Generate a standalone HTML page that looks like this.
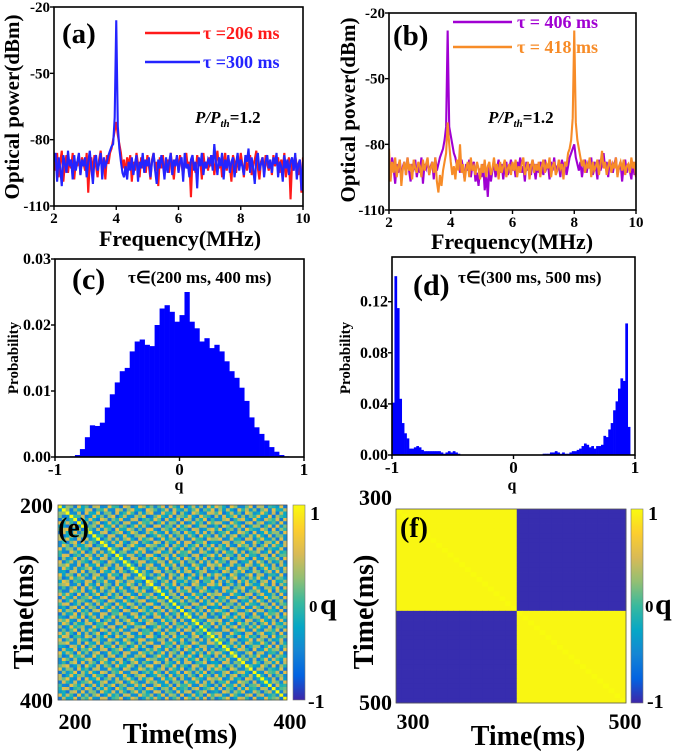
<!DOCTYPE html>
<html><head><meta charset="utf-8"><style>
html,body{margin:0;padding:0;background:#fff;}
svg{display:block;font-family:"Liberation Serif",serif;font-weight:bold;}
</style></head><body>
<svg id="fig" width="685" height="753" viewBox="0 0 685 753" xmlns="http://www.w3.org/2000/svg">
<defs>
<linearGradient id="parula" x1="0" y1="1" x2="0" y2="0">
<stop offset="0" stop-color="#3e26a8"/><stop offset="0.125" stop-color="#0363e1"/><stop offset="0.25" stop-color="#1485d4"/><stop offset="0.375" stop-color="#06a7c6"/><stop offset="0.5" stop-color="#38b99e"/><stop offset="0.625" stop-color="#92bf73"/><stop offset="0.75" stop-color="#d9ba56"/><stop offset="0.875" stop-color="#fcce2e"/><stop offset="1" stop-color="#f9fb0e"/>
</linearGradient>
<clipPath id="clipA"><rect x="54" y="7" width="249" height="199"/></clipPath>
<clipPath id="clipB"><rect x="389" y="13" width="247" height="197"/></clipPath>
</defs>
<g id="root"></g>
</svg>
<script>
// ---------- data ----------
const freqStart = 2, freqStep = 0.05;
const redA = [-88,-94,-86,-97,-90,-85,-99,-91,-87,-95,-89,-93,-86,-98,-90,-92,-87,-96,-88,-91,
-94,-86,-104,-90,-88,-95,-87,-92,-97,-89,-85,-93,-90,-98,-87,-91,-86,-84,-80,-76,
-72,-78,-82,-86,-93,-89,-96,-88,-92,-87,-99,-90,-94,-86,-91,-97,-88,-93,-89,-95,
-87,-92,-98,-89,-86,-94,-90,-101,-88,-93,-87,-96,-91,-89,-95,-86,-92,-98,-90,-88,
-94,-87,-91,-97,-89,-86,-93,-90,-106,-88,-92,-95,-87,-91,-89,-98,-86,-93,-90,-94,
-88,-92,-87,-96,-90,-85,-93,-89,-97,-91,-86,-94,-88,-92,-99,-87,-90,-95,-89,-93,
-86,-91,-97,-88,-94,-90,-87,-96,-92,-89,-85,-93,-98,-90,-88,-95,-87,-91,-94,-89,
-96,-87,-92,-90,-88,-95,-89,-93,-86,-97,-91,-88,-107,-90,-94,-87,-92,-96,-89,-104,-88];
const blueA = [-90,-86,-99,-88,-93,-101,-87,-91,-95,-85,-92,-89,-98,-87,-94,-90,-86,-96,-89,-92,
-88,-97,-90,-85,-93,-100,-89,-87,-94,-91,-86,-98,-88,-92,-90,-87,-85,-83,-82,-70,
-26,-74,-84,-90,-95,-97,-92,-98,-90,-94,-88,-96,-91,-87,-99,-90,-93,-86,-95,-89,
-92,-88,-97,-90,-86,-94,-100,-89,-93,-87,-91,-98,-88,-95,-90,-86,-96,-89,-92,-87,
-95,-90,-88,-99,-86,-93,-91,-97,-89,-87,-94,-90,-102,-88,-92,-86,-96,-90,-93,-89,
-91,-87,-94,-82,-90,-96,-88,-92,-86,-98,-89,-93,-87,-95,-90,-88,-97,-91,-86,-94,
-89,-92,-96,-87,-90,-84,-95,-88,-93,-100,-89,-86,-94,-91,-88,-97,-90,-87,-93,-89,
-95,-88,-91,-86,-97,-90,-92,-99,-87,-93,-89,-96,-90,-88,-94,-86,-98,-91,-89,-103,-90];
const purpleB = [-88,-95,-86,-91,-98,-89,-93,-87,-96,-90,-88,-94,-86,-92,-97,-89,-91,-87,-95,-90,
-93,-86,-98,-89,-91,-87,-94,-90,-88,-96,-86,-92,-89,-86,-84,-82,-78,-72,-28,-72,
-76,-80,-84,-86,-90,-88,-93,-87,-91,-96,-89,-92,-87,-95,-90,-88,-97,-93,-99,-91,
-95,-89,-101,-94,-104,-90,-97,-92,-88,-95,-91,-87,-93,-89,-96,-90,-88,-94,-91,-87,
-92,-89,-95,-88,-91,-86,-93,-90,-97,-88,-92,-89,-94,-87,-91,-96,-89,-93,-88,-90,
-94,-87,-91,-89,-96,-88,-92,-86,-93,-90,-89,-95,-87,-91,-88,-94,-90,-86,-84,-82,
-80,-86,-89,-92,-88,-95,-90,-87,-93,-89,-91,-86,-94,-88,-90,-96,-87,-92,-89,-84,
-91,-88,-95,-87,-90,-93,-89,-86,-94,-91,-88,-97,-90,-87,-93,-89,-92,-96,-88,-94,-91];
const orangeB = [-82,-97,-88,-93,-86,-95,-90,-87,-99,-91,-88,-94,-86,-92,-89,-96,-87,-91,-93,-88,
-90,-95,-87,-92,-89,-86,-94,-91,-88,-93,-86,-97,-102,-94,-99,-92,-88,-84,-70,-80,
-88,-94,-90,-96,-87,-92,-80,-93,-89,-97,-91,-88,-95,-86,-92,-90,-94,-88,-91,-96,
-89,-93,-87,-95,-90,-88,-94,-91,-86,-92,-89,-96,-88,-93,-90,-87,-95,-91,-89,-94,
-88,-92,-87,-95,-90,-93,-89,-86,-94,-91,-88,-96,-90,-87,-93,-89,-92,-88,-95,-90,
-87,-93,-89,-91,-86,-95,-90,-88,-94,-92,-87,-91,-89,-96,-88,-90,-84,-82,-78,-68,
-28,-70,-78,-82,-86,-90,-87,-93,-89,-91,-86,-95,-88,-92,-90,-87,-94,-89,-83,-91,
-88,-94,-90,-87,-93,-89,-91,-86,-95,-90,-88,-92,-87,-94,-90,-89,-93,-86,-91,-88,-95];
const specXTicks = [2,4,6,8,10];
const specYTicks = [-20,-50,-80,-110];

const histCStart = -1, histCWidth = 0.04;
const histC = [0,0,0,0.0001,0.0003,0.0012,0.003,0.0048,0.0047,0.0052,0.0075,0.0095,0.0113,0.013,0.0135,0.016,0.0175,0.0178,0.017,0.0168,0.02,0.0225,0.023,0.022,0.0205,0.0215,0.025,0.0205,0.0195,0.0175,0.018,0.0165,0.017,0.016,0.0145,0.013,0.012,0.0105,0.0085,0.006,0.0045,0.0035,0.0025,0.0015,0.0008,0.0003,0.0001,0,0,0];
const histCYTicks = ["0.00","0.01","0.02","0.03"];
const histDStart = -1, histDWidth = 0.02;
const histD = [0.041,0.14,0.115,0.044,0.025,0.017,0.013,0.005,0.005,0.006,0.007,0.006,0.004,0.003,0.003,0.003,0.003,0.003,0.003,0.003,0.002,0.001,0.002,0.003,0.002,0.003,0.002,0.001,
0,0,0,0,0,0,0,0,0,0,0,0,0,0,0,0,0,0,0,0,0,0,0,0,0,0,0,0,0,0,0,0,0,0,
0.001,0.001,0.001,0.002,0.002,0.003,0.002,0.001,0.002,0.001,0.001,0.002,0.003,0.003,0.004,0.005,0.007,0.009,0.008,0.006,0.007,0.005,0.007,0.007,0.008,0.015,0.014,0.02,0.025,0.035,0.042,0.052,0.06,0.058,0.103,0.022];
const histDYTicks = ["0.00","0.04","0.08","0.12"];
const histXTicks = [-1,0,1];

// state phases (degrees) for overlap matrices q_ij
const phasesE = [12,140,75,300,210,33,260,95,180,320,55,230,150,5,280,110,200,345,70,165,
250,20,310,130,85,225,290,45,175,335,100,240,15,195,270,60,145,315,215,40,
120,350,80,265,185,25,305,155,235,90,10,205,325,65,170,285,115,245,30,190];
const phasesF = [0,0,0,0,0,0,0,0,0,0,0,0,0,0,0,0,0,0,0,0,0,
180,180,180,180,180,180,180,180,180,180,180,180,180,180,180,180,180,180,180];

// ---------- helpers ----------
const NS = "http://www.w3.org/2000/svg";
const root = document.getElementById('root');
function mk(tag, attrs, parent, txt){
  const e = document.createElementNS(NS, tag);
  for (const k in attrs) e.setAttribute(k, attrs[k]);
  if (txt !== undefined) e.textContent = txt;
  (parent || root).appendChild(e);
  return e;
}
function lin(d0,d1,r0,r1){ return v => r0 + (v-d0)*(r1-r0)/(d1-d0); }
function parula(v){
  const st=[[62,38,168],[3,99,225],[20,133,212],[6,167,198],[56,185,158],[146,191,115],[217,186,86],[252,206,46],[249,251,14]];
  let t=(v+1)/2*8; t=Math.max(0,Math.min(8,t)); const i=Math.min(7,Math.floor(t)), f=t-i;
  const c=st[i].map((a,k)=>Math.round(a+(st[i+1][k]-a)*f));
  return `rgb(${c[0]},${c[1]},${c[2]})`;
}

// ---------- spectrum panels ----------
function spectrum(id, x0,x1,y0,y1, series, clip){
  const g = mk('g',{});
  
  
  const sx = lin(2,10,x0,x1), sy = lin(-20,-110,y0,y1);
  const pg = mk('g',{'clip-path':`url(#${clip})`}, g);
  series.forEach(s=>{
    const d = s.vals.map((v,i)=>(i?'L':'M')+sx(freqStart+i*freqStep).toFixed(2)+','+sy(v).toFixed(2)).join('');
    const p = mk('path',{d, fill:'none', stroke:s.color, 'stroke-width':2.1, 'stroke-linejoin':'miter'}, pg);
    
    
  });
  mk('rect',{x:x0,y:y0,width:x1-x0,height:y1-y0,fill:'none',stroke:'#000','stroke-width':1.6},g);
  specXTicks.forEach(t=>{
    mk('line',{x1:sx(t),x2:sx(t),y1:y1,y2:y1+4,stroke:'#000','stroke-width':1.4},g);
    const tl = mk('text',{x:sx(t),y:y1+17,'font-size':15,'text-anchor':'middle'},g,String(t));
    
    
  });
  specYTicks.forEach(t=>{
    mk('line',{x1:x0-4,x2:x0,y1:sy(t),y2:sy(t),stroke:'#000','stroke-width':1.4},g);
    const tl = mk('text',{x:x0-4,y:sy(t)+5,'font-size':15,'text-anchor':'end'},g,String(t));
    
    
  });
  return g;
}
spectrum('a',54,303,7,206,[{vals:redA,color:'#ff1a1a',name:'series-tau-206'},{vals:blueA,color:'#2424ff',name:'series-tau-300'}],'clipA');
spectrum('b',389,636,13,210,[{vals:purpleB,color:'#a000d2',name:'series-tau-406'},{vals:orangeB,color:'#f78c28',name:'series-tau-418'}],'clipB');

// ---------- histograms ----------
function hist(id,x0,x1,y0,y1,ymax,vals,start,w,yt,ytv){
  const g = mk('g',{});
  
  
  const sx = lin(-1,1,x0,x1), sy = lin(0,ymax,y1,y0);
  vals.forEach((v,i)=>{
    if(v<=0) return;
    const a=sx(start+i*w), b=sx(start+(i+1)*w);
    const r = mk('rect',{x:a,y:sy(v),width:b-a+0.3,height:y1-sy(v),fill:'#0000ff'},g);
    
    
  });
  mk('rect',{x:x0,y:y0,width:x1-x0,height:y1-y0,fill:'none',stroke:'#000','stroke-width':1.6},g);
  histXTicks.forEach(t=>{
    mk('line',{x1:sx(t),x2:sx(t),y1:y1,y2:y1+4,stroke:'#000','stroke-width':1.4},g);
    const tl = mk('text',{x:sx(t),y:y1+18,'font-size':17,'text-anchor':'middle'},g,String(t));
    
    
  });
  yt.forEach((t,i)=>{
    const yy = sy(ytv[i]);
    mk('line',{x1:x0-4,x2:x0,y1:yy,y2:yy,stroke:'#000','stroke-width':1.4},g);
    const tl = mk('text',{x:x0-4,y:yy+5,'font-size':16,'text-anchor':'end'},g,t);
    
    
  });
}
hist('c',55,304,259,457,0.03,histC,histCStart,histCWidth,histCYTicks,histCYTicks.map(Number));
hist('d',392,635,257,455,0.155,histD,histDStart,histDWidth,histDYTicks,histDYTicks.map(Number));

// ---------- overlap heatmaps ----------
function heat(id,x0,x1,y0,y1,ph,scale){
  const g = mk('g',{});
  
  
  const n = ph.length, sx = lin(0,n,x0,x1), sy = lin(0,n,y0,y1);
  for(let i=0;i<n;i++) for(let j=0;j<n;j++){
    const q = i===j ? 1 : scale*Math.cos((ph[i]-ph[j])*Math.PI/180);
    const c = mk('rect',{x:sx(j),y:sy(i),width:sx(j+1)-sx(j)+0.4,height:sy(i+1)-sy(i)+0.4,fill:parula(q)},g);
    
    
  }
  mk('rect',{x:x0,y:y0,width:x1-x0,height:y1-y0,fill:'none',stroke:'#555','stroke-width':0.8},g);
}
heat('e',58,287,505,700,phasesE,0.6);
heat('f',396,626,509,703,phasesF,0.97);
[[293,305,505,700,'e'],[631,643,509,703,'f']].forEach(c=>{
  const r = mk('rect',{x:c[0],y:c[2],width:c[1]-c[0],height:c[3]-c[2],fill:'url(#parula)',stroke:'#777','stroke-width':0.6});
  
  
});

// ---------- static text ----------
const T = [
 ['text',{x:19,y:107,'font-size':21,'text-anchor':'middle',transform:'rotate(-90 19 107)'},'Optical power(dBm)','a-y-axis-title'],
 ['text',{x:180,y:246,'font-size':22,'text-anchor':'middle'},'Frequency(MHz)','a-x-axis-title'],
 ['text',{x:62,y:43,'font-size':29},'(a)','a-panel-label'],
 ['text',{x:203,y:39,'font-size':18,fill:'#ff1a1a'},'τ =206 ms','a-legend-red'],
 ['text',{x:203,y:68,'font-size':18,fill:'#2424ff'},'τ =300 ms','a-legend-blue'],
 ['text',{x:355,y:110,'font-size':21,'text-anchor':'middle',transform:'rotate(-90 355 110)'},'Optical power(dBm)','b-y-axis-title'],
 ['text',{x:512,y:249,'font-size':22,'text-anchor':'middle'},'Frequency(MHz)','b-x-axis-title'],
 ['text',{x:393,y:45,'font-size':29},'(b)','b-panel-label'],
 ['text',{x:517,y:28,'font-size':18,fill:'#a000d2'},'τ = 406 ms','b-legend-purple'],
 ['text',{x:517,y:53,'font-size':18,fill:'#f78c28'},'τ = 418 ms','b-legend-orange'],
 ['text',{x:18,y:358,'font-size':15,'text-anchor':'middle',transform:'rotate(-90 18 358)'},'Probability','c-y-axis-title'],
 ['text',{x:179,y:490,'font-size':16,'text-anchor':'middle'},'q','c-x-axis-title'],
 ['text',{x:72,y:289,'font-size':30},'(c)','c-panel-label'],
 ['text',{x:128,y:283,'font-size':17},'τ∈(200 ms, 400 ms)','c-range-label'],
 ['text',{x:350,y:358,'font-size':15,'text-anchor':'middle',transform:'rotate(-90 350 358)'},'Probability','d-y-axis-title'],
 ['text',{x:512,y:490,'font-size':16,'text-anchor':'middle'},'q','d-x-axis-title'],
 ['text',{x:413,y:295,'font-size':30},'(d)','d-panel-label'],
 ['text',{x:458,y:283,'font-size':17},'τ∈(300 ms, 500 ms)','d-range-label'],
 ['text',{x:58,y:537,'font-size':28},'(e)','e-panel-label'],
 ['text',{x:53,y:513,'font-size':22,'text-anchor':'end'},'200','e-y-tick-200'],
 ['text',{x:53,y:708,'font-size':22,'text-anchor':'end'},'400','e-y-tick-400'],
 ['text',{x:75,y:729,'font-size':22,'text-anchor':'middle'},'200','e-x-tick-200'],
 ['text',{x:290,y:729,'font-size':22,'text-anchor':'middle'},'400','e-x-tick-400'],
 ['text',{x:180,y:743,'font-size':28,'text-anchor':'middle'},'Time(ms)','e-x-axis-title'],
 ['text',{x:33,y:612,'font-size':28,'text-anchor':'middle',transform:'rotate(-90 33 612)'},'Time(ms)','e-y-axis-title'],
 ['text',{x:310,y:520,'font-size':20},'1','e-cbar-1'],
 ['text',{x:309,y:612,'font-size':17},'0','e-cbar-0'],
 ['text',{x:320,y:614,'font-size':30},'q','e-cbar-title'],
 ['text',{x:308,y:708,'font-size':20},'-1','e-cbar-neg1'],
 ['text',{x:400,y:537,'font-size':28},'(f)','f-panel-label'],
 ['text',{x:392,y:505,'font-size':22,'text-anchor':'end'},'300','f-y-tick-300'],
 ['text',{x:392,y:710,'font-size':22,'text-anchor':'end'},'500','f-y-tick-500'],
 ['text',{x:413,y:729,'font-size':22,'text-anchor':'middle'},'300','f-x-tick-300'],
 ['text',{x:625,y:729,'font-size':22,'text-anchor':'middle'},'500','f-x-tick-500'],
 ['text',{x:528,y:745,'font-size':28,'text-anchor':'middle'},'Time(ms)','f-x-axis-title'],
 ['text',{x:373,y:612,'font-size':28,'text-anchor':'middle',transform:'rotate(-90 373 612)'},'Time(ms)','f-y-axis-title'],
 ['text',{x:648,y:520,'font-size':20},'1','f-cbar-1'],
 ['text',{x:645,y:612,'font-size':17},'0','f-cbar-0'],
 ['text',{x:655,y:614,'font-size':30},'q','f-cbar-title'],
 ['text',{x:647,y:708,'font-size':20},'-1','f-cbar-neg1']
];
T.forEach(t=>{
  const e = mk(t[0],t[1],root,t[2]);
  
  
});
[[145,200,33,'#ff1a1a'],[145,200,62,'#2424ff'],[453,512,22,'#a000d2'],[453,512,47,'#f78c28']].forEach(l=>{
  const e = mk('line',{x1:l[0],x2:l[1],y1:l[2],y2:l[2],stroke:l[3],'stroke-width':2.5});
  
  
});
[[195,123,'a'],[488,123,'b']].forEach(p=>{
  const e = mk('text',{x:p[0],y:p[1],'font-size':17});
  
  
  mk('tspan',{'font-style':'italic'},e,'P/P');
  mk('tspan',{'font-style':'italic','font-size':11,dy:4},e,'th');
  mk('tspan',{dy:-4},e,'=1.2');
});
</script>
</body></html>
